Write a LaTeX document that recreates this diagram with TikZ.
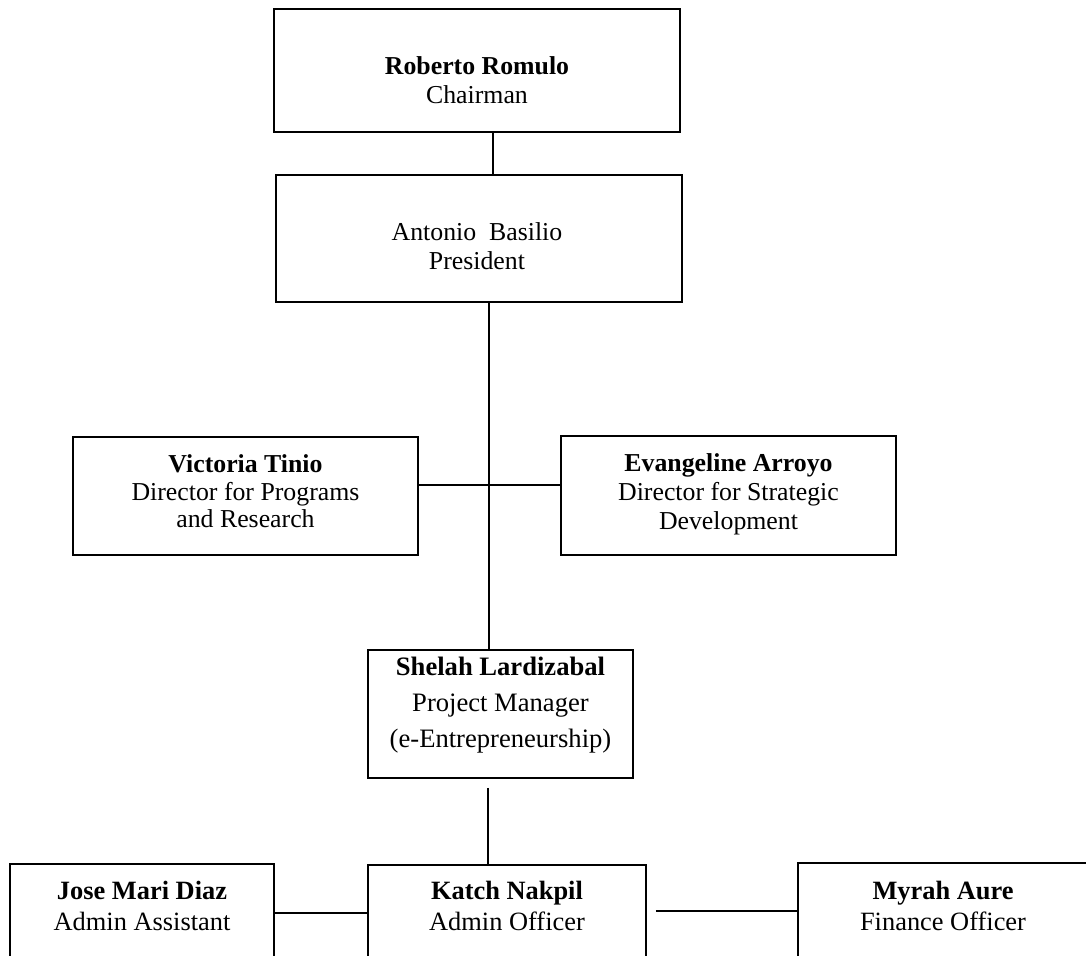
\documentclass[tikz,border=0pt]{standalone}
\usepackage{fontspec}
\setmainfont{Liberation Serif}
\begin{document}
\begin{tikzpicture}[x=0.5pt,y=-0.5pt,
  box/.style={draw, line width=0.8pt, rectangle, inner sep=0pt},
  txt/.style={anchor=north, inner sep=0pt, align=center, font=\fontsize{12.9}{14.5}\selectfont},
  txtb/.style={anchor=north, inner sep=0pt, align=center, font=\fontsize{13.2}{15.5}\selectfont},
  link/.style={line width=0.7pt},
  hlink/.style={line width=0.9pt}]
\useasboundingbox (0,0) rectangle (1086,955);
\clip (0,0) rectangle (1086,955);
% boxes
\node[box, minimum width=203pt, minimum height=61.5pt] (chair) at (477,70.5) {};
\node[box, minimum width=203pt, minimum height=63.5pt] (pres) at (479,238.5) {};
\node[box, minimum width=172.5pt, minimum height=59pt] (vic) at (245.5,496) {};
\node[box, minimum width=167.5pt, minimum height=59.5pt] (evg) at (728.5,495.5) {};
\node[box, minimum width=132.5pt, minimum height=64pt] (shel) at (500.5,714) {};
\node[box, minimum width=132pt, minimum height=68pt] (jose) at (142,932) {};
\node[box, minimum width=139pt, minimum height=67.5pt] (katch) at (507,932.5) {};
\node[box, minimum width=146pt, minimum height=68.5pt] (myrah) at (944,931.5) {};
% texts
\node[txt] (chairT) at (477,56) {\textbf{Roberto Romulo}\\Chairman};
\node[txt] (presT) at (477,222) {Antonio\ \ Basilio\\President};
\node[txt, font=\fontsize{12.9}{13.9}\selectfont] (vicT) at (245.5,454) {\textbf{Victoria Tinio}\\Director for Programs\\and Research};
\node[txt, font=\fontsize{12.9}{14.5}\selectfont] (evgT) at (728.5,453) {\textbf{Evangeline Arroyo}\\Director for Strategic\\Development};
\node[txt, font=\fontsize{13.3}{18}\selectfont] (shelT) at (500.5,657) {\textbf{Shelah Lardizabal}\\Project Manager\\(e-Entrepreneurship)};
\node[txtb] (joseT) at (142,881) {\textbf{Jose Mari Diaz}\\Admin Assistant};
\node[txtb] (katchT) at (507,881) {\textbf{Katch Nakpil}\\Admin Officer};
\node[txtb] (myrahT) at (943,881) {\textbf{Myrah Aure}\\Finance Officer};
% connector reference coordinates
\coordinate (c1) at (493,0);
\coordinate (sp) at (489,0);
\coordinate (sp2) at (488,0);
\coordinate (h1) at (0,485);
\coordinate (h2) at (0,913);
\coordinate (h3) at (0,911);
% connectors
\draw[link] (chair.south -| c1) -- (pres.north -| c1);
\draw[link] (pres.south -| sp) -- (shel.north -| sp);
\draw[hlink] (vic.east |- h1) -- (evg.west |- h1);
\draw[link] ([yshift=-4.5pt]shel.south -| sp2) -- (katch.north -| sp2);
\draw[hlink] (jose.east |- h2) -- (katch.west |- h2);
\draw[hlink] ([xshift=4.5pt]katch.east |- h3) -- (myrah.west |- h3);
\end{tikzpicture}
\end{document}
